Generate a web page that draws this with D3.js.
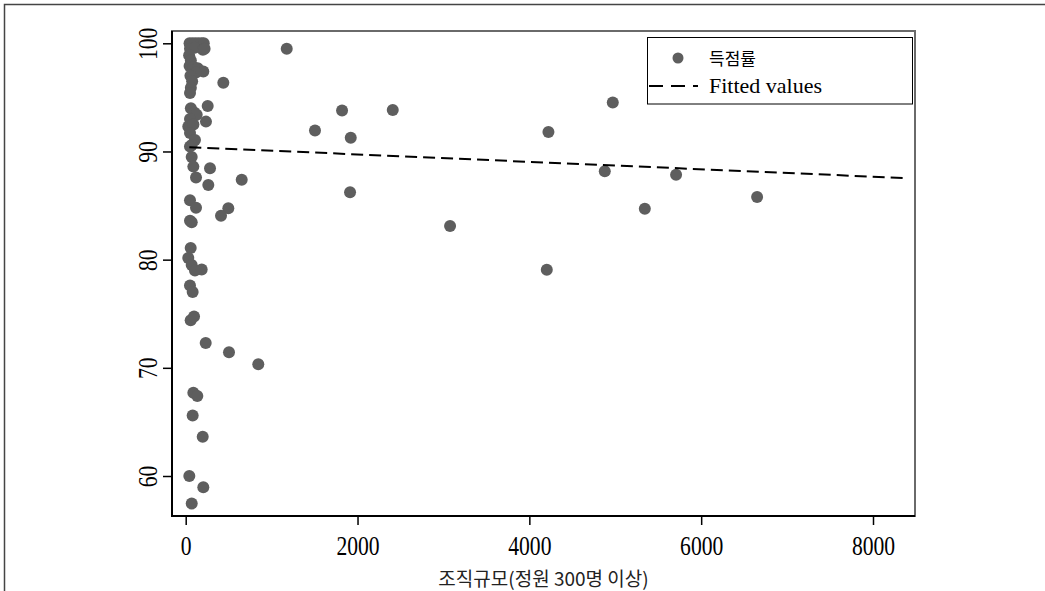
<!DOCTYPE html>
<html>
<head>
<meta charset="utf-8">
<script src="https://cdn.jsdelivr.net/npm/d3@7"></script>
<style>
  body { margin: 0; background: #fff; }
  svg { display: block; }
</style>
</head>
<body>
<div id="chart"></div>
<script>
// 조직규모 (x) vs 득점률 (y)
var sizeVals = [45, 80, 115, 150, 185, 210, 50, 110, 200, 220,
  40, 60, 45, 90, 140, 205, 120, 55, 75, 60, 50,
  438, 256, 236, 60, 100, 128, 50, 30, 90, 50, 108, 70, 50,
  70, 89, 283, 120, 652, 263, 50, 120, 496, 411, 50, 70,
  58, 30, 70, 108, 186, 50, 81, 58, 97, 233, 504, 845,
  89, 135, 81, 198, 42, 205, 70,
  1176, 1820, 1505, 1921, 2410, 1913, 3077, 4222, 4203,
  4971, 4878, 5344, 5708, 6651];
var scoreVals = [100, 100, 100, 100, 100, 100, 99.5, 99.6, 99.4, 99.5,
  98.9, 98.4, 97.9, 97.8, 97.7, 97.4, 97.3, 97.0, 96.5, 95.9, 95.4,
  96.36, 94.2, 92.76, 94.0, 93.6, 93.4, 93.0, 92.3, 92.5, 91.7, 91.07, 90.6, 90.45,
  89.5, 88.6, 88.46, 87.6, 87.38, 86.9, 85.5, 84.8, 84.76, 84.05, 83.6, 83.45,
  81.07, 80.15, 79.5, 79.0, 79.1, 77.6, 77.0, 74.4, 74.75, 72.3, 71.43, 70.32,
  67.7, 67.4, 65.6, 63.62, 60.0, 58.97, 57.45,
  99.5, 93.78, 91.93, 91.26, 93.84, 86.24, 83.1, 91.81, 79.07,
  94.52, 88.18, 84.7, 87.84, 85.8];
var fitX = [42, 8350];
var fitY = [90.4, 87.55];
var xTicks = [0, 2000, 4000, 6000, 8000];
var yTicks = [60, 70, 80, 90, 100];
var legendLabels = ["득점률", "Fitted values"];
var xTitle = "조직규모(정원 300명 이상)";

var points = sizeVals.map(function (d, i) { return { x: d, y: scoreVals[i] }; });

var svg = d3.select("#chart").append("svg")
  .attr("width", 1045)
  .attr("height", 591);

var x = d3.scaleLinear().domain([0, 8000]).range([185.7, 873]);
var y = d3.scaleLinear().domain([60, 100]).range([476, 43.3]);

var pLeft = 172, pRight = 915, pTop = 31, pBottom = 516;

// outer frame
svg.append("rect")
  .attr("x", 4.5).attr("y", 4.5)
  .attr("width", 1100).attr("height", 700)
  .attr("fill", "none")
  .attr("stroke", "#444")
  .attr("stroke-width", 1.5);

// plot region
svg.append("rect")
  .attr("x", pLeft).attr("y", pTop)
  .attr("width", pRight - pLeft).attr("height", pBottom - pTop)
  .attr("fill", "none")
  .attr("stroke", "#6a6a6a")
  .attr("stroke-width", 2);

// axes
var xAxis = svg.append("g")
  .attr("transform", "translate(0," + pBottom + ")")
  .call(d3.axisBottom(x).tickValues(xTicks).tickFormat(d3.format("d")).tickSize(9).tickSizeOuter(0));
xAxis.select(".domain").remove();
xAxis.selectAll("line").attr("stroke", "#000").attr("stroke-width", 1.5);
xAxis.selectAll("text")
  .attr("y", 20)
  .attr("transform", "scale(0.8,1)")
  .attr("font-family", "Liberation Serif, serif")
  .attr("font-size", 27)
  .attr("fill", "#000");

var yAxis = svg.append("g")
  .attr("transform", "translate(" + pLeft + ",0)")
  .call(d3.axisLeft(y).tickValues(yTicks).tickFormat(d3.format("d")).tickSize(9).tickSizeOuter(0));
yAxis.select(".domain").remove();
yAxis.selectAll("line").attr("stroke", "#000").attr("stroke-width", 1.5);
yAxis.selectAll("text")
  .attr("x", 0)
  .attr("y", -15)
  .attr("dy", 0)
  .attr("text-anchor", "middle")
  .attr("transform", "rotate(-90) scale(0.8,1)")
  .attr("font-family", "Liberation Serif, serif")
  .attr("font-size", 27)
  .attr("fill", "#000");

svg.append("line")
  .attr("x1", pLeft).attr("x2", pLeft)
  .attr("y1", pTop).attr("y2", pBottom + 1)
  .attr("stroke", "#000").attr("stroke-width", 2);
svg.append("line")
  .attr("x1", pLeft - 1).attr("x2", pRight)
  .attr("y1", pBottom).attr("y2", pBottom)
  .attr("stroke", "#000").attr("stroke-width", 2);

// points
svg.selectAll("circle.pt")
  .data(points)
  .enter().append("circle")
  .attr("class", "pt")
  .attr("cx", function (d) { return x(d.x); })
  .attr("cy", function (d) { return y(d.y); })
  .attr("r", 6)
  .attr("fill", "#5e5e5e");

// fitted line
svg.append("line")
  .attr("x1", x(fitX[0])).attr("y1", y(fitY[0]))
  .attr("x2", x(fitX[1])).attr("y2", y(fitY[1]))
  .attr("stroke", "#000")
  .attr("stroke-width", 2)
  .attr("stroke-dasharray", "12,6");

// legend
var lg = svg.append("g");
lg.append("rect")
  .attr("x", 647.5).attr("y", 37.5)
  .attr("width", 265).attr("height", 66.5)
  .attr("fill", "#fff")
  .attr("stroke", "#000")
  .attr("stroke-width", 1);
lg.append("circle")
  .attr("cx", 678).attr("cy", 58)
  .attr("r", 5.5)
  .attr("fill", "#5e5e5e");
lg.append("line")
  .attr("x1", 649).attr("x2", 698)
  .attr("y1", 86).attr("y2", 86)
  .attr("stroke", "#000")
  .attr("stroke-width", 2)
  .attr("stroke-dasharray", "14,8");
lg.append("text")
  .attr("x", 709).attr("y", 65)
  .attr("font-family", "Noto Sans CJK KR, sans-serif")
  .attr("font-size", 17)
  .attr("fill", "#000")
  .text(legendLabels[0]);
lg.append("text")
  .attr("x", 709).attr("y", 93)
  .attr("font-family", "Liberation Serif, serif")
  .attr("font-size", 22)
  .attr("fill", "#000")
  .text(legendLabels[1]);

// x title
svg.append("text")
  .attr("x", (pLeft + pRight) / 2)
  .attr("y", 586)
  .attr("text-anchor", "middle")
  .attr("font-family", "Noto Sans CJK KR, sans-serif")
  .attr("font-size", 19)
  .attr("fill", "#222")
  .text(xTitle);
</script>
</body>
</html>
